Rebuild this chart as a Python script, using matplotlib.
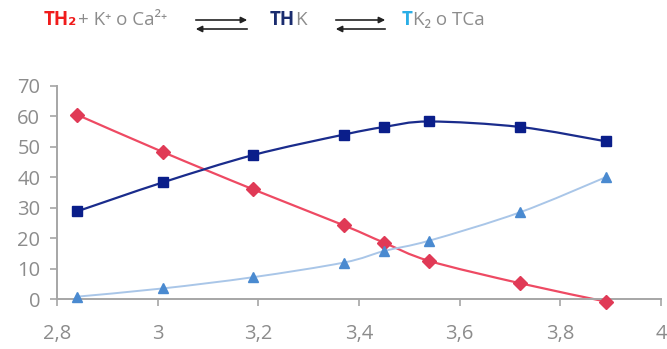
import numpy as np
import matplotlib.pyplot as plt
from matplotlib.path import Path
from matplotlib.patches import PathPatch, FancyArrowPatch

# data
ph = [2.84, 3.01, 3.19, 3.37, 3.45, 3.54, 3.72, 3.89]
th2 = [60.5, 48.3, 36.0, 24.2, 18.5, 12.5, 5.2, -0.8]
thk = [28.8, 38.3, 47.3, 54.0, 56.5, 58.3, 56.5, 51.8]
tk2 = [0.8, 3.5, 7.2, 12.0, 15.8, 19.2, 28.5, 40.0]
xticks = [2.8, 3.0, 3.2, 3.4, 3.6, 3.8, 4.0]
xtick_labels = ['2,8', '3', '3,2', '3,4', '3,6', '3,8', '4']
yticks = [0, 10, 20, 30, 40, 50, 60, 70]

grey = '#8c8c8c'
plt.rcParams['font.family'] = ['Open Sans', 'DejaVu Sans']


def smooth_path(x, y):
    # excel-like smoothed line through the points (bezier segments)
    p = np.column_stack([x, y])
    pts = np.vstack([p[0], p, p[-1]])
    verts = [p[0]]
    codes = [Path.MOVETO]
    for i in range(1, len(pts) - 2):
        c1 = pts[i] + (pts[i + 1] - pts[i - 1]) / 6.0
        c2 = pts[i + 1] - (pts[i + 2] - pts[i]) / 6.0
        verts += [c1, c2, pts[i + 1]]
        codes += [Path.CURVE4] * 3
    return Path(verts, codes)


fig = plt.figure(figsize=(6.67, 3.49), dpi=100)
ax = fig.add_axes([0.0855, 0.143, 0.9055, 0.611])

series = [
    (th2, '#ee4a63', 1.6, 'D', '#e03a56', 7),
    (thk, '#1a2c8c', 1.6, 's', '#0a1e8a', 7.5),
    (tk2, '#a9c6e8', 1.4, '^', '#4a8ad0', 6.5),
]
for vals, lc, lw, mk, mc, ms in series:
    patch = PathPatch(smooth_path(ph, vals), facecolor='none', edgecolor=lc,
                      lw=lw, clip_on=False, zorder=2)
    ax.add_patch(patch)
    ax.plot(ph, vals, ls='none', marker=mk, color=mc, ms=ms, clip_on=False, zorder=3)

ax.set_xlim(2.8, 4.0)
ax.set_ylim(0, 70)
ax.set_xticks(xticks)
ax.set_xticklabels(xtick_labels)
ax.set_yticks(yticks)
for s in ['top', 'right']:
    ax.spines[s].set_visible(False)
for s in ['left', 'bottom']:
    ax.spines[s].set_color('#a6a6a6')
    ax.spines[s].set_linewidth(1.4)
ax.tick_params(axis='x', colors='#a6a6a6', labelcolor=grey, labelsize=14.5,
               length=5, width=1.2, pad=13)
ax.tick_params(axis='y', colors='#a6a6a6', labelcolor=grey, labelsize=14.5,
               length=5, width=1.2, pad=7)

# reaction scheme on top
ty = 1 - 20 / 349
fs = 13.5


def put(xpx, s, c, bold=False):
    fig.text(xpx / 667, ty, s, color=c, fontsize=fs, va='center', ha='left',
             fontweight='bold' if bold else 'normal')


put(44, 'TH₂', '#f01c1c', True)
put(78, '+ K⁺ o Ca²⁺', grey)
put(270, 'TH', '#1a2c6e', True)
put(295, 'K', grey)
put(402, 'T', '#2aaee6', True)
put(413, 'K₂ o TCa', grey)

for x0, x1 in [(193, 250), (333, 388)]:
    fig.patches.append(FancyArrowPatch(
        (x0 / 667, 1 - 20 / 349), (x1 / 667, 1 - 20 / 349), transform=fig.transFigure,
        arrowstyle='-|>', mutation_scale=9, color='#222222', lw=1.2))
    fig.patches.append(FancyArrowPatch(
        (x1 / 667, 1 - 29 / 349), (x0 / 667, 1 - 29 / 349), transform=fig.transFigure,
        arrowstyle='-|>', mutation_scale=9, color='#222222', lw=1.2))

fig.savefig('out.png', dpi=100)
